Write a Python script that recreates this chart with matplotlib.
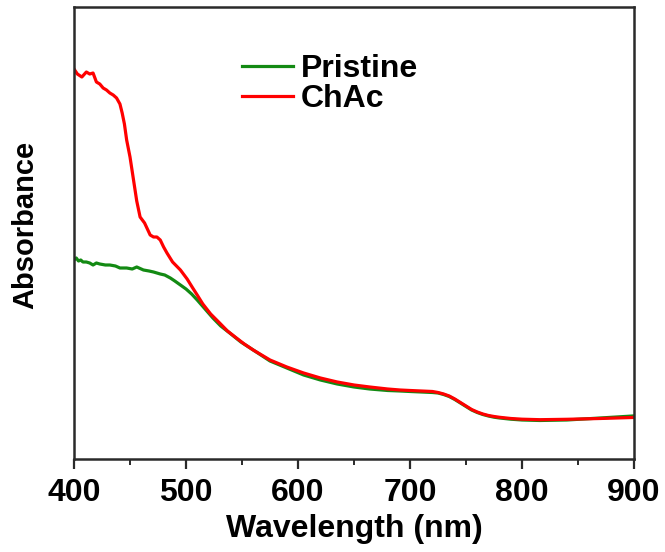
import numpy as np
import matplotlib.pyplot as plt

plt.rcParams['font.family'] = ['Liberation Sans', 'DejaVu Sans']
plt.rcParams['font.weight'] = 'bold'

# Wavelength (nm) and absorbance (a.u.)
wl_chac = [400, 403, 407, 411, 414, 417, 420, 423, 426, 429, 432, 435, 438, 441,
           443, 445, 447, 450, 453, 456, 459, 463, 468, 471, 474, 477, 480, 483,
           488, 495, 501, 506, 510, 515, 522, 530, 537, 545, 552, 560, 575, 590,
           605, 620, 635, 650, 664, 680, 691, 700, 710, 720, 725, 730, 735, 740,
           745, 750, 755, 760, 765, 770, 775, 780, 790, 800, 816, 840, 870, 899]
abs_chac = [3.90, 3.85, 3.82, 3.87, 3.85, 3.86, 3.77, 3.75, 3.71, 3.69, 3.66,
            3.64, 3.61, 3.55, 3.46, 3.35, 3.19, 3.02, 2.80, 2.58, 2.42, 2.36,
            2.24, 2.22, 2.22, 2.19, 2.12, 2.06, 1.97, 1.89, 1.80, 1.71, 1.64,
            1.55, 1.45, 1.36, 1.28, 1.21, 1.15, 1.09, 0.99, 0.92, 0.86, 0.81,
            0.77, 0.74, 0.72, 0.70, 0.69, 0.685, 0.68, 0.675, 0.665, 0.65, 0.63,
            0.60, 0.565, 0.53, 0.495, 0.47, 0.45, 0.435, 0.425, 0.417, 0.405,
            0.398, 0.393, 0.397, 0.405, 0.415]

wl_pristine = [400, 402, 404, 406, 408, 411, 414, 417, 420, 423, 428, 432, 437,
               441, 447, 452, 456, 462, 467, 471, 477, 481, 486, 490, 495, 500,
               505, 510, 517, 524, 531, 539, 549, 560, 575, 590, 605, 620, 635,
               650, 664, 680, 691, 700, 710, 720, 725, 730, 735, 740, 745, 750,
               755, 760, 765, 770, 775, 780, 790, 800, 816, 840, 870, 899]
abs_pristine = [1.99, 2.01, 1.98, 1.99, 1.97, 1.97, 1.96, 1.94, 1.96, 1.95, 1.94,
                1.94, 1.93, 1.91, 1.91, 1.90, 1.92, 1.89, 1.88, 1.87, 1.85, 1.84,
                1.81, 1.78, 1.74, 1.70, 1.65, 1.59, 1.50, 1.41, 1.33, 1.26, 1.17,
                1.09, 0.98, 0.91, 0.84, 0.79, 0.75, 0.72, 0.70, 0.685, 0.68, 0.675,
                0.67, 0.665, 0.66, 0.645, 0.625, 0.595, 0.56, 0.525, 0.49, 0.465,
                0.445, 0.43, 0.418, 0.41, 0.398, 0.39, 0.385, 0.39, 0.41, 0.43]

fig = plt.figure(figsize=(6.65, 5.52), dpi=100)
ax = fig.add_axes([0.1113, 0.1685, 0.8421, 0.8188])

ax.plot(wl_pristine, abs_pristine, color='#138a13', lw=2.3, label='Pristine')
ax.plot(wl_chac, abs_chac, color='#ff0000', lw=2.3, label='ChAc')

ax.set_xlim(400, 900)
ax.set_ylim(0, 4.52)
ax.set_xticks(np.arange(400, 901, 100))
ax.set_xticks(np.arange(450, 900, 100), minor=True)
ax.set_yticks([])

for s in ax.spines.values():
    s.set_linewidth(1.8)
    s.set_color('#2a2a2a')
ax.tick_params(axis='x', which='major', direction='out', length=7, width=1.6,
               labelsize=23, pad=7, color='#2a2a2a')
ax.tick_params(axis='x', which='minor', direction='out', length=4, width=1.4,
               color='#2a2a2a')

ax.set_xlabel('Wavelength (nm)', fontsize=23, fontweight='bold', labelpad=4)
ax.set_ylabel('Absorbance', fontsize=21, fontweight='bold')
ax.yaxis.set_label_coords(-0.062, 0.518)

ax.legend(loc='upper left', bbox_to_anchor=(0.30, 0.895), frameon=False,
          fontsize=23, handlelength=1.6, handletextpad=0.25, labelspacing=0.0,
          borderpad=0, borderaxespad=0)

fig.savefig('out.png', dpi=100)
